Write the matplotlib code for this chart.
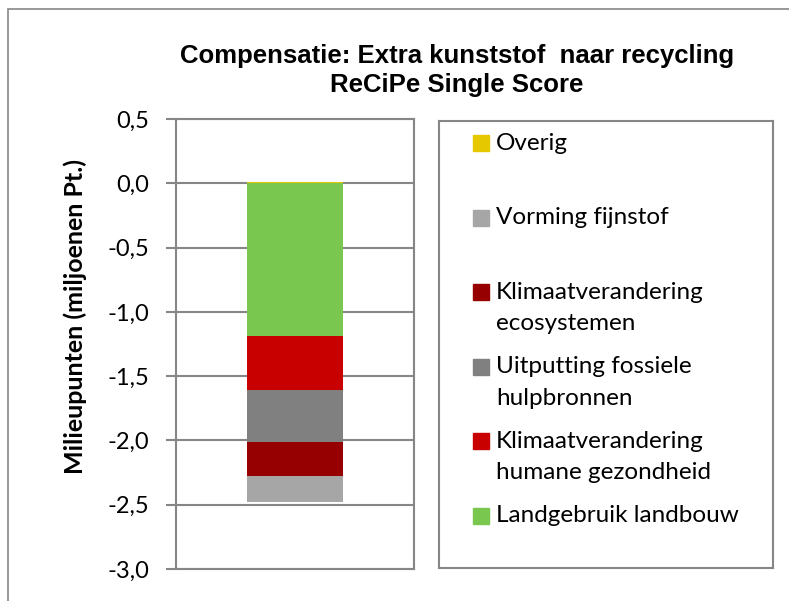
import matplotlib
matplotlib.use("Agg")
import matplotlib.pyplot as plt
from matplotlib.patches import Rectangle
from matplotlib.ticker import FuncFormatter

# series in stacking order (from the zero line downwards)
categories = [
    "Landgebruik landbouw",
    "Klimaatverandering\nhumane gezondheid",
    "Uitputting fossiele\nhulpbronnen",
    "Klimaatverandering\necosystemen",
    "Vorming fijnstof",
    "Overig",
]
values = [-1.19, -0.42, -0.40, -0.27, -0.20, 0.012]
colors = ["#7AC74F", "#C80000", "#808080", "#960000", "#A6A6A6", "#E6C800"]
yticks = [0.5, 0.0, -0.5, -1.0, -1.5, -2.0, -2.5, -3.0]

W, H = 789, 601
fig = plt.figure(figsize=(W / 100, H / 100), dpi=100)

# outer chart frame (cut off at right and bottom)
fig.patches.append(Rectangle((8 / W, -0.1), 1.2, 1 - 9 / H + 0.1,
                             transform=fig.transFigure, fill=False,
                             edgecolor="#868686", lw=1.2))

ax = fig.add_axes([176 / W, 1 - 569 / H, (414 - 176) / W, (569 - 119) / H])

neg_base = 0.0
pos_base = 0.0
for cat, val, col in zip(categories, values, colors):
    if val < 0:
        ax.bar(0, val, bottom=neg_base, width=0.403, color=col, zorder=3)
        neg_base += val
    else:
        ax.bar(0, val, bottom=pos_base, width=0.403, color=col, zorder=3)
        pos_base += val

ax.set_xlim(-0.5, 0.5)
ax.set_ylim(-3.0, 0.5)
ax.set_yticks(yticks)
ax.yaxis.set_major_formatter(FuncFormatter(lambda v, p: f"{v:.1f}".replace(".", ",")))
ax.set_xticks([])
ax.grid(axis="y", color="#868686", lw=1.5, zorder=1)
for s in ax.spines.values():
    s.set_color("#868686")
    s.set_linewidth(1.5)
ax.tick_params(axis="y", direction="out", length=7, width=1.5, color="#868686",
               labelsize=17, pad=12)
for lab in ax.get_yticklabels():
    lab.set_family("Lato")

ax.set_ylabel("Milieupunten (miljoenen Pt.)", fontsize=18, fontweight="bold",
              family="Lato")
ax.yaxis.set_label_coords(87 / W, 1 - 317 / H, transform=fig.transFigure)

fig.text(457 / W, 1 - 70.5 / H, "Compensatie: Extra kunststof  naar recycling\nReCiPe Single Score",
         ha="center", va="center", fontsize=18.5, fontweight="bold",
         family="Liberation Sans", linespacing=1.25)

# legend box, drawn in pixel coordinates
lax = fig.add_axes([439 / W, 1 - 568 / H, (773 - 439) / W, (568 - 121) / H])
lax.set_xlim(439, 773)
lax.set_ylim(568, 121)
lax.set_xticks([])
lax.set_yticks([])
for s in lax.spines.values():
    s.set_color("#868686")
    s.set_linewidth(1.5)

legend_order = list(zip(categories, colors))[::-1]
for i, (cat, col) in enumerate(legend_order):
    y = 143 + i * 74.5
    lax.add_patch(Rectangle((473, y - 8), 16, 16, color=col))
    for j, line in enumerate(cat.split("\n")):
        lax.text(496, y + j * 31.5, line, va="center", ha="left", fontsize=17.5,
                 family="Lato")

fig.savefig("out.png", dpi=100)
